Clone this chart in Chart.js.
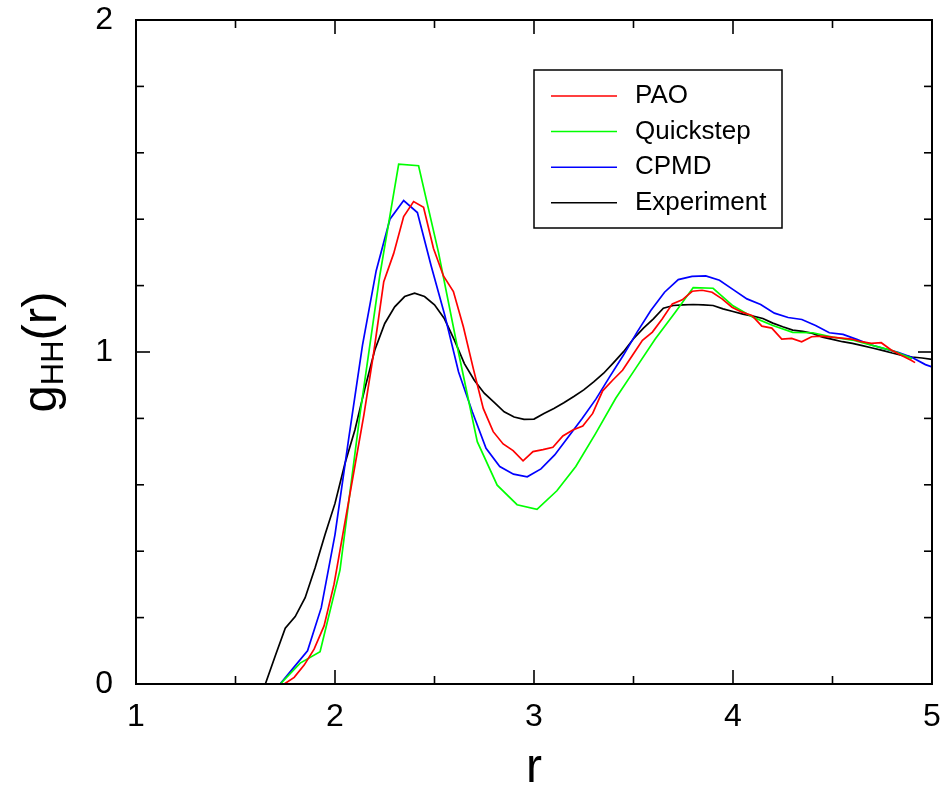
<!DOCTYPE html>
<html>
<head>
<meta charset="utf-8">
<title>g_HH(r)</title>
<script src="https://cdn.jsdelivr.net/npm/chart.js@4.4.0/dist/chart.umd.min.js"></script>
<style>
  html, body { margin: 0; padding: 0; background: #fff; }
  #caixa { width: 944px; height: 799px; }
</style>
</head>
<body>
<div id="caixa"><canvas id="grafico"></canvas></div>
<script>
// nomes das series (legenda)
const nomesSeries = ['PAO', 'Quickstep', 'CPMD', 'Experiment'];
const coresSeries = ['#ff0000', '#00ff00', '#0000ff', '#000000'];

// PAO (vermelho)
const rPAO = [1.0, 1.745, 1.795, 1.845, 1.895, 1.945, 1.995, 2.045, 2.095, 2.145, 2.195,
  2.245, 2.295, 2.345, 2.395, 2.445, 2.495, 2.545, 2.595, 2.645, 2.695, 2.745, 2.795,
  2.845, 2.895, 2.945, 2.995, 3.045, 3.095, 3.145, 3.195, 3.245, 3.295, 3.345, 3.395,
  3.445, 3.495, 3.545, 3.595, 3.645, 3.695, 3.745, 3.795, 3.845, 3.895, 3.945, 3.995,
  4.045, 4.095, 4.145, 4.195, 4.245, 4.295, 4.345, 4.395, 4.445, 4.495, 4.545, 4.595,
  4.645, 4.695, 4.745, 4.795, 4.845, 4.895, 4.915];
const gPAO = [0, 0, 0.02, 0.057, 0.105, 0.175, 0.30, 0.47, 0.64, 0.81, 1.00,
  1.212, 1.297, 1.408, 1.453, 1.436, 1.312, 1.229, 1.182, 1.076, 0.95, 0.83, 0.76,
  0.723, 0.703, 0.672, 0.70, 0.706, 0.713, 0.747, 0.765, 0.777, 0.815, 0.883, 0.915,
  0.945, 0.99, 1.035, 1.06, 1.10, 1.145, 1.157, 1.183, 1.186, 1.18, 1.16, 1.135,
  1.12, 1.11, 1.078, 1.072, 1.039, 1.041, 1.031, 1.046, 1.048, 1.045, 1.042, 1.039,
  1.031, 1.026, 1.028, 1.006, 0.99, 0.975, 0.968];

// Quickstep (verde)
const rQuick = [1.0, 1.725, 1.825, 1.925, 2.025, 2.125, 2.225, 2.32, 2.42, 2.52, 2.62,
  2.715, 2.815, 2.915, 3.015, 3.115, 3.21, 3.31, 3.41, 3.51, 3.61, 3.71, 3.80, 3.90,
  4.0, 4.1, 4.2, 4.3, 4.4, 4.5, 4.6, 4.7, 4.8, 4.9];
const gQuick = [0, 0, 0.063, 0.097, 0.343, 0.81, 1.23, 1.566, 1.561, 1.30, 1.0,
  0.73, 0.599, 0.54, 0.526, 0.582, 0.655, 0.755, 0.86, 0.95, 1.04, 1.12, 1.194, 1.192,
  1.139, 1.105, 1.08, 1.059, 1.058, 1.045, 1.036, 1.02, 1.004, 0.98];

// CPMD (azul)
const rCPMD = [1.0, 1.724, 1.793, 1.862, 1.931, 2.0, 2.069, 2.138, 2.207, 2.276, 2.345,
  2.414, 2.483, 2.552, 2.621, 2.69, 2.759, 2.828, 2.897, 2.966, 3.035, 3.104, 3.173,
  3.242, 3.311, 3.38, 3.449, 3.518, 3.587, 3.656, 3.725, 3.794, 3.863, 3.932, 4.001,
  4.07, 4.139, 4.208, 4.277, 4.346, 4.415, 4.484, 4.553, 4.622, 4.691, 4.76, 4.829,
  4.898, 4.967, 5.0];
const gCPMD = [0, 0, 0.05, 0.10, 0.23, 0.45, 0.74, 1.02, 1.245, 1.40, 1.456,
  1.42, 1.26, 1.11, 0.94, 0.82, 0.71, 0.655, 0.632, 0.624, 0.648, 0.69, 0.745,
  0.80, 0.858, 0.925, 0.99, 1.06, 1.125, 1.18, 1.218, 1.228, 1.229, 1.216, 1.188,
  1.16, 1.143, 1.117, 1.104, 1.098, 1.08, 1.058, 1.053, 1.038, 1.022, 1.01, 0.999,
  0.984, 0.962, 0.955];

// Experimento (preto)
const rExp = [1.0, 1.65, 1.70, 1.75, 1.80, 1.85, 1.90, 1.95, 2.00, 2.05, 2.10, 2.15, 2.20,
  2.25, 2.30, 2.35, 2.40, 2.45, 2.50, 2.55, 2.60, 2.65, 2.70, 2.75, 2.80, 2.85, 2.90,
  2.95, 3.00, 3.05, 3.10, 3.15, 3.20, 3.25, 3.30, 3.35, 3.40, 3.45, 3.50, 3.55, 3.60,
  3.65, 3.70, 3.75, 3.80, 3.85, 3.90, 3.95, 4.00, 4.05, 4.10, 4.15, 4.20, 4.25, 4.30,
  4.35, 4.40, 4.45, 4.50, 4.55, 4.60, 4.65, 4.70, 4.75, 4.80, 4.85, 4.90, 4.95, 5.00];
const gExp = [0, 0, 0.085, 0.168, 0.203, 0.26, 0.35, 0.45, 0.544, 0.664, 0.765, 0.89, 1.006,
  1.086, 1.136, 1.167, 1.177, 1.167, 1.142, 1.10, 1.036, 0.965, 0.915, 0.876, 0.848, 0.82, 0.804,
  0.797, 0.798, 0.815, 0.83, 0.847, 0.866, 0.886, 0.91, 0.936, 0.968, 1.001, 1.04, 1.072, 1.10,
  1.132, 1.14, 1.142, 1.143, 1.142, 1.14, 1.13, 1.122, 1.114, 1.108, 1.101, 1.087, 1.076, 1.066,
  1.062, 1.056, 1.045, 1.038, 1.031, 1.026, 1.019, 1.012, 1.005, 0.997, 0.99, 0.985, 0.982, 0.978];

// marcas dos eixos
const xMaiores = [1, 2, 3, 4, 5];
const xMenores = [1.5, 2.5, 3.5, 4.5];
const yMaiores = [0, 1, 2];
const yMenores = [0.2, 0.4, 0.6, 0.8, 1.2, 1.4, 1.6, 1.8];

const fonte = "'Liberation Sans', Arial, sans-serif";

// junta r e g em pontos {x, y}
function pontos(rs, gs) {
  return rs.map((r, i) => ({ x: r, y: gs[i] }));
}

const series = [pontos(rPAO, gPAO), pontos(rQuick, gQuick), pontos(rCPMD, gCPMD), pontos(rExp, gExp)];

// moldura, marcas para dentro, titulos e legenda
const molduraPlugin = {
  id: 'moldura',
  afterDraw(chart) {
    const { ctx, chartArea: a, scales: { x, y } } = chart;
    ctx.save();
    ctx.strokeStyle = '#000';
    ctx.lineWidth = 2;
    ctx.strokeRect(a.left, a.top, a.right - a.left, a.bottom - a.top);

    ctx.lineWidth = 1.6;
    function linha(x1, y1, x2, y2) {
      ctx.beginPath(); ctx.moveTo(x1, y1); ctx.lineTo(x2, y2); ctx.stroke();
    }
    function marcaX(v, tam) {
      const px = x.getPixelForValue(v);
      linha(px, a.bottom, px, a.bottom - tam);
      linha(px, a.top, px, a.top + tam);
    }
    function marcaY(v, tam) {
      const py = y.getPixelForValue(v);
      linha(a.left, py, a.left + tam, py);
      linha(a.right, py, a.right - tam, py);
    }
    xMaiores.forEach(v => marcaX(v, 14));
    xMenores.forEach(v => marcaX(v, 8));
    yMaiores.forEach(v => marcaY(v, 14));
    yMenores.forEach(v => marcaY(v, 8));

    // titulo do eixo x
    ctx.fillStyle = '#000';
    ctx.textAlign = 'center';
    ctx.textBaseline = 'alphabetic';
    ctx.font = '48px ' + fonte;
    ctx.fillText('r', (a.left + a.right) / 2, 782);

    // titulo do eixo y: g com indice HH
    const fGrande = '49px ' + fonte;
    const fPequena = '31px ' + fonte;
    ctx.font = fGrande;
    const wG = ctx.measureText('g').width;
    const wR = ctx.measureText('(r)').width;
    ctx.font = fPequena;
    const wH = ctx.measureText('HH').width;
    const total = wG + wH + wR;
    ctx.translate(56, (a.top + a.bottom) / 2);
    ctx.rotate(-Math.PI / 2);
    ctx.textAlign = 'left';
    let cx = -total / 2;
    ctx.font = fGrande;
    ctx.fillText('g', cx, 0);
    cx += wG;
    ctx.font = fPequena;
    ctx.fillText('HH', cx, 7);
    cx += wH;
    ctx.font = fGrande;
    ctx.fillText('(r)', cx, 0);
    ctx.restore();

    // legenda
    ctx.save();
    ctx.strokeStyle = '#000';
    ctx.lineWidth = 1.5;
    ctx.strokeRect(534, 70, 248, 158);
    ctx.font = '26px ' + fonte;
    ctx.textBaseline = 'middle';
    ctx.textAlign = 'left';
    chart.data.datasets.forEach((ds, i) => {
      const ly = 96 + i * 35.6;
      ctx.strokeStyle = ds.borderColor;
      ctx.lineWidth = 1.5;
      linha(551, ly, 617, ly);
      ctx.fillStyle = '#000';
      ctx.fillText(ds.label, 635, ly);
    });
    ctx.restore();
  }
};

const ctx = document.getElementById('grafico').getContext('2d');
new Chart(ctx, {
  type: 'line',
  data: {
    datasets: series.map((dados, i) => ({
      label: nomesSeries[i],
      data: dados,
      borderColor: coresSeries[i],
      borderWidth: 1.7,
      pointRadius: 0,
      tension: 0,
      fill: false
    }))
  },
  options: {
    responsive: true,
    maintainAspectRatio: false,
    animation: false,
    devicePixelRatio: 1,
    layout: { padding: { top: 20, right: 12, left: 0, bottom: 0 } },
    plugins: { legend: { display: false }, tooltip: { enabled: false } },
    scales: {
      x: {
        type: 'linear', min: 1, max: 5,
        grid: { display: false, drawTicks: false },
        border: { display: false },
        ticks: { stepSize: 1, padding: 14, color: '#000', font: { family: fonte, size: 32 } },
        afterFit(s) {
          s.height = 115;
          s.paddingLeft = 0; s.paddingRight = 0;
        }
      },
      y: {
        type: 'linear', min: 0, max: 2,
        grid: { display: false, drawTicks: false },
        border: { display: false },
        ticks: { stepSize: 1, padding: 23, color: '#000', font: { family: fonte, size: 32 } },
        afterFit(s) {
          s.width = 136;
          s.paddingTop = 0; s.paddingBottom = 0;
        }
      }
    }
  },
  plugins: [molduraPlugin]
});
</script>
</body>
</html>
